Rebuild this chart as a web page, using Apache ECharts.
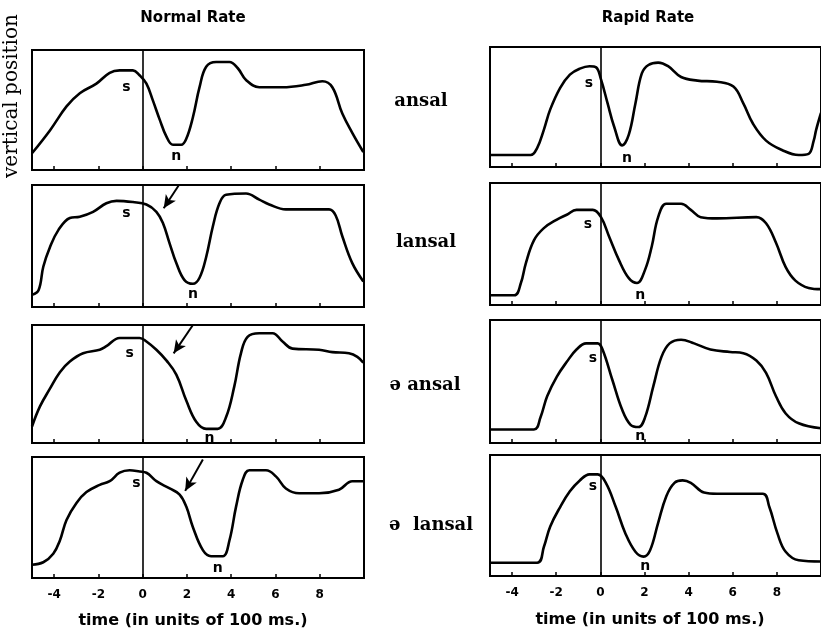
<!DOCTYPE html>
<html><head><meta charset="utf-8">
<script src="https://cdn.jsdelivr.net/npm/echarts@6/dist/echarts.min.js"></script>
<style>html,body{margin:0;padding:0;background:#fff}#c{width:821px;height:631px}</style>
</head><body><div id="c"></div>
<script>
// ---- data (x in units of 100 ms, y = relative vertical position 0..100) ----
var normalAnsal = [[-5,14],[-4.19,33],[-3.44,53],[-2.84,64],[-2.09,72],[-1.49,81],[-1.04,83],[-0.44,83],[-0.14,79],[0.17,72],[0.46,58],[0.77,42],[1.07,28],[1.37,21],[1.74,21],[1.97,26],[2.27,44],[2.57,69],[2.87,86],[3.32,90],[3.92,90],[4.29,85],[4.67,75],[5.27,69],[6.32,69],[7.37,71],[8.12,74],[8.57,69],[9.02,47],[9.47,31],[9.97,15]];
var normalLansal = [[-5,10],[-4.7,14],[-4.49,33],[-4.19,49],[-3.81,63],[-3.29,73],[-2.84,74],[-2.24,78],[-1.64,85],[-1.18,87],[-0.44,86],[0.17,84],[0.62,78],[0.91,69],[1.22,52],[1.52,36],[1.89,22],[2.27,19],[2.57,24],[2.87,41],[3.17,66],[3.47,85],[3.77,92],[4.67,93],[5.27,88],[5.72,84],[6.47,80],[8.42,80],[8.72,75],[9.02,58],[9.47,36],[9.97,21]];
var normalSchwaAnsal = [[-5,14],[-4.64,31],[-4.19,46],[-3.74,60],[-3.29,69],[-2.69,76],[-1.94,79],[-1.64,82],[-1.04,89],[-0.14,89],[0.17,86],[0.62,79],[1.07,70],[1.52,58],[1.97,36],[2.42,18],[2.87,12],[3.39,12],[3.77,22],[4.14,48],[4.44,76],[4.74,90],[5.27,93],[5.87,93],[6.32,86],[6.77,80],[7.97,79],[8.57,77],[9.32,76],[9.7,73],[9.97,68]];
var normalSchwaLansal = [[-5,11],[-4.49,13],[-4.04,20],[-3.74,31],[-3.44,48],[-2.99,62],[-2.54,71],[-1.94,77],[-1.49,80],[-1.04,87],[-0.59,89],[-0.14,88],[0.17,87],[0.62,80],[1.22,74],[1.67,69],[1.97,59],[2.27,42],[2.72,23],[3.09,18],[3.62,18],[3.92,31],[4.22,59],[4.52,81],[4.82,89],[5.57,89],[6.02,84],[6.47,74],[7.07,70],[7.97,70],[8.87,73],[9.47,80],[9.97,80]];
var rapidAnsal = [[-5,10],[-3.16,10],[-2.86,16],[-2.56,31],[-2.27,48],[-1.82,66],[-1.38,77],[-0.93,82],[-0.49,84],[-0.19,83],[0.03,73],[0.33,53],[0.62,34],[0.99,18],[1.29,27],[1.59,53],[1.88,78],[2.18,85],[2.62,87],[3.07,84],[3.66,75],[4.4,72],[5.29,71],[6.03,67],[6.48,53],[6.92,36],[7.51,22],[8.25,14],[8.99,10],[9.44,11],[9.67,22],[9.78,31],[10,45]];
var rapidLansal = [[-5,8],[-3.9,8],[-3.6,18],[-3.38,34],[-3.01,53],[-2.56,63],[-1.97,70],[-1.52,74],[-1.08,78],[-0.34,78],[0.03,72],[0.4,56],[0.84,37],[1.29,22],[1.66,18],[2.03,29],[2.33,48],[2.62,72],[2.99,83],[3.66,83],[4.1,78],[4.55,72],[5.29,71],[7.07,72],[7.51,67],[7.96,51],[8.4,31],[8.84,20],[9.44,14],[10,13]];
var rapidSchwaAnsal = [[-5,11],[-3.01,11],[-2.71,21],[-2.41,38],[-1.97,54],[-1.52,66],[-1.08,76],[-0.64,81],[-0.12,81],[0.1,76],[0.55,51],[0.99,27],[1.36,15],[1.73,13],[2.03,21],[2.4,46],[2.77,70],[3.14,81],[3.66,84],[4.25,81],[4.99,76],[5.88,74],[6.48,73],[7.07,67],[7.51,57],[7.96,38],[8.4,24],[8.99,16],[10,12]];
var rapidSchwaLansal = [[-5,11],[-2.86,11],[-2.56,24],[-2.27,41],[-1.82,57],[-1.38,70],[-0.93,79],[-0.49,84],[-0.12,84],[0.25,77],[0.7,57],[1.14,35],[1.59,20],[1.96,16],[2.25,21],[2.62,44],[2.99,66],[3.36,77],[3.73,79],[4.1,77],[4.7,69],[5.29,68],[7.36,68],[7.66,57],[8.03,35],[8.4,20],[8.99,13],[10,12]];

var xTicks = [-4,-2,0,2,4,6,8];
var columnTitles = ['Normal Rate','Rapid Rate'];
var rowLabels = ['ansal','lansal','ə ansal','ə  lansal'];
var xAxisTitle = 'time (in units of 100 ms.)';
var yAxisTitle = 'vertical position';

// annotation anchor points [x, y] in data units
var sPoints = [[-0.73,69],[-0.73,77],[-0.59,76],[-0.28,78],[-0.52,70],[-0.56,66],[-0.34,69],[-0.34,74]];
var nPoints = [[1.52,11],[2.27,10],[3.02,4],[3.39,8],[1.21,7],[1.81,8],[1.81,5],[2.03,8]];
// arrows [from, to] for normal-rate panels 2..4
var arrows = {1:[[1.64,100],[0.95,81]], 2:[[2.27,100],[1.4,76]], 3:[[2.72,98],[1.92,72]]};

var panels = [normalAnsal, normalLansal, normalSchwaAnsal, normalSchwaLansal, rapidAnsal, rapidLansal, rapidSchwaAnsal, rapidSchwaLansal];

// ---- layout ----
var leftRows = [[50,120],[185,122],[325,118],[457,121]];
var rightRows = [[47,120],[183,122],[320,123],[455,121]];
var grids=[], xAxes=[], yAxes=[], series=[];
for (var i=0;i<8;i++){
  var col = i<4?0:1, row = i%4;
  var r = col===0?leftRows[row]:rightRows[row];
  grids.push({left: col===0?32:490, width: col===0?332:337, top:r[0], height:r[1], show:true, borderColor:'#000', borderWidth:2, backgroundColor:'transparent'});
  xAxes.push({type:'value', gridIndex:i, min:-5, max:10,
    axisLine:{show:false}, splitLine:{show:false},
    axisTick:{show:true, inside:true, length:4, customValues:xTicks, lineStyle:{color:'#000',width:1.5}},
    axisLabel:{show: row===3, customValues:xTicks, color:'#000', fontWeight:'bold', fontSize:12, fontFamily:'DejaVu Sans', margin:11}
  });
  yAxes.push({type:'value', gridIndex:i, min:0, max:100, show:false});
  var mlData = [{xAxis:0, lineStyle:{color:'#000', width:1.6, type:'solid'}}];
  if (col===0 && arrows[row]) {
    var a = arrows[row];
    mlData.push([{coord:a[0], symbol:'none'},{coord:a[1], symbol:'arrow', symbolSize:[9,13]}]);
  }
  series.push({type:'line', xAxisIndex:i, yAxisIndex:i, data:panels[i], showSymbol:false, smooth:0.4, clip:false,
    lineStyle:{color:'#000', width:2.6}, animation:false, silent:true,
    markLine:{silent:true, symbol:['none','none'], label:{show:false}, lineStyle:{color:'#000',width:2,type:'solid'}, animation:false, data:mlData},
    markPoint:{silent:true, animation:false, symbol:'circle', symbolSize:0,
      label:{show:true, color:'#000', fontWeight:'bold', fontSize:14, fontFamily:'DejaVu Sans', position:'inside'},
      data:[{coord:sPoints[i], value:'s', label:{formatter:'s'}},{coord:nPoints[i], value:'n', label:{formatter:'n'}}]}
  });
}

var graphics = [];
function txt(x,y,t,font,rot){
  graphics.push({type:'text', x:x, y:y, rotation: rot||0, style:{text:t, font:font, fill:'#000', align:'center', verticalAlign:'middle'}});
}
txt(193,18,columnTitles[0],'bold 15px "DejaVu Sans"');
txt(648,18,columnTitles[1],'bold 15px "DejaVu Sans"');
txt(193,621,xAxisTitle,'bold 16px "DejaVu Sans"');
txt(650,620,xAxisTitle,'bold 16px "DejaVu Sans"');
txt(12,96,yAxisTitle,'20px "DejaVu Serif"',Math.PI/2);
var rowY=[101,242,385,525], rowX=[421,426,425,431];
for (var k=0;k<4;k++) txt(rowX[k],rowY[k],rowLabels[k],'bold 18px "DejaVu Serif"');

var chart = echarts.init(document.getElementById('c'), null, {renderer:'canvas'});
chart.setOption({animation:false, grid:grids, xAxis:xAxes, yAxis:yAxes, series:series, graphic:graphics});
</script></body></html>
